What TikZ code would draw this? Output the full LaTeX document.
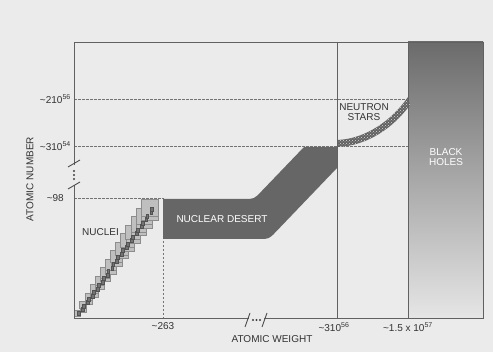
\documentclass[tikz,border=0pt]{standalone}
\usepackage{fontspec}
\setmainfont{Liberation Sans}
\usetikzlibrary{positioning, patterns, calc}

\begin{document}
\begin{tikzpicture}[x=1pt, y=-1pt,
	axis/.style={draw=black!62, line width=0.8pt},
	guide/.style={draw=black!55, dash pattern=on 2.5pt off 1.5pt, line width=0.6pt},
	lbl/.style={font=\fontsize{10}{9.5}\selectfont, text=black!80, inner sep=1pt, align=center},
	inlbl/.style={lbl, text=white},
	nucbox/.style={fill=black!25, draw=black!45, line width=0.4pt},
	corebox/.style={fill=black!55, draw=black!68, line width=0.3pt},
	brk/.style={draw=black!70, line width=0.9pt}
	]
	\useasboundingbox (0,0) rectangle (493,352);
	\fill[black!8] (0,0) rectangle (493,352);
	
	% corners of the frame
	\coordinate (o) at (74,318);
	\coordinate (tl) at (74,42);
	\coordinate (tr) at (483,42);
	\coordinate (br) at (483,318);
	
	% guide lines
	\draw[guide] (74,99) -- (408,99);
	\draw[guide] (74,146) -- (408,146);
	\draw[guide] (74,198) -- (163,198) -- (163,318);
	
	% black holes
	\shade[top color=black!58, middle color=black!52, bottom color=black!10] (408,42) rectangle (483,318);
	
	% nuclear desert
	\fill[black!60] (163,199) -- (244,199) .. controls (254,199) .. (261,191.8)
		-- (304,147) -- (337,147) -- (337,168)
		-- (275.9,231.8) .. controls (269,239) .. (259,239) -- (163,239) -- cycle;
	
	% neutron stars
	\fill[black!62, postaction={pattern=crosshatch dots, pattern color=white!85!black}]
		(337,147) .. controls (368,146) and (394,127) .. (410,105)
		-- (408,97) .. controls (392,120) and (366,139) .. (337,140) -- cycle;
	
	% nuclei
	\foreach \i in {0,...,26}{
		\pgfmathsetmacro\cx{79+72*\i/26+mod(\i,2)*3-1.5}
		\pgfmathsetmacro\cy{313-105*\i/26}
		\pgfmathsetmacro\h{3+5.5*\i/26}
		\filldraw[nucbox] (\cx-\h,\cy-\h) rectangle (\cx+\h,\cy+\h);
	}
	\foreach \i in {0,...,30}{
		\pgfmathsetmacro\cx{79+73*\i/30+mod(\i,2)*1.5}
		\pgfmathsetmacro\cy{313-104*\i/30}
		\filldraw[corebox] (\cx-1.4,\cy-2) rectangle (\cx+1.4,\cy+2);
	}
	
	% frame
	\draw[axis] (o) -- (tl) -- (tr) -- (br) -- cycle;
	\draw[axis] (337,42) -- (337,318);
	\draw[axis] (408,42) -- (408,318);
	
	% axis breaks
	\fill[black!8] (70,165) rectangle (78,185);
	\draw[brk] (68,167) -- (80,160);
	\draw[brk] (68,189) -- (80,182);
	\foreach \y in {171,175,179}
		\fill[black!75] (74,\y) circle (1.1pt);
	\fill[black!8] (249,315) rectangle (264,321);
	\draw[brk] (245,327) -- (250,313);
	\draw[brk] (262,327) -- (267,313);
	\foreach \x in {253,256.5,260}
		\fill[black!75] (\x,320) circle (1.1pt);
	
	% labels
	\node[lbl, anchor=east] (y210) at (72,99) {\textasciitilde210\textsuperscript{56}};
	\node[lbl, anchor=east] (y310) at (72,146) {\textasciitilde310\textsuperscript{54}};
	\node[lbl, anchor=east] (y98) at (65,198) {\textasciitilde98};
	\node[lbl, rotate=90] (ylab) at (30,179) {ATOMIC NUMBER};
	\node[lbl] (x263) at (163,326) {\textasciitilde263};
	\node[lbl] (x310) at (334,327) {\textasciitilde310\textsuperscript{56}};
	\node[lbl] (x15) at (408,327) {\textasciitilde1.5 x 10\textsuperscript{57}};
	\node[lbl] (xlab) at (272,339) {ATOMIC WEIGHT};
	\node[lbl, anchor=east] (nuclei) at (120,232) {NUCLEI};
	\node[inlbl] (desert) at (222,219) {NUCLEAR DESERT};
	\node[lbl] (nstars) at (364,112) {NEUTRON\\STARS};
	\node[inlbl] (bholes) at (446,157) {BLACK\\HOLES};
\end{tikzpicture}
\end{document}
